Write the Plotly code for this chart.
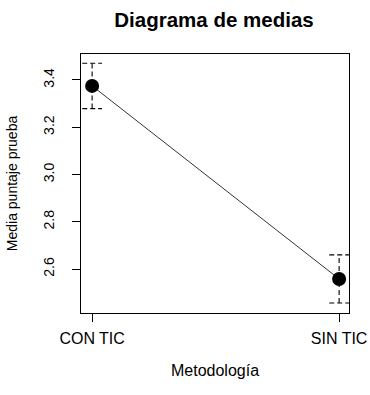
import plotly.graph_objects as go

categories = ["CON TIC", "SIN TIC"]
means = [3.375, 2.558]
half_width = [0.096, 0.102]
y_ticks = [2.6, 2.8, 3.0, 3.2, 3.4]

xpos = list(range(len(categories)))
cap = 0.04
FONT = "Liberation Sans, Arial, sans-serif"

W, H = 370, 395

fig = go.Figure()

fig.add_trace(go.Scatter(
    x=xpos, y=means, mode="lines+markers",
    line=dict(color="black", width=0.8),
    marker=dict(color="black", size=14),
    showlegend=False, hoverinfo="skip",
))

dash = "5px,3px"
for xi, m, h in zip(xpos, means, half_width):
    lo, hi = m - h, m + h
    fig.add_trace(go.Scatter(x=[xi, xi], y=[lo, hi], mode="lines",
                             line=dict(color="black", width=1.1, dash=dash),
                             showlegend=False, hoverinfo="skip"))
    for yv in (lo, hi):
        fig.add_trace(go.Scatter(x=[xi - cap, xi + cap], y=[yv, yv], mode="lines",
                                 line=dict(color="black", width=1.1, dash=dash),
                                 showlegend=False, hoverinfo="skip"))

fig.update_layout(
    width=W, height=H,
    margin=dict(l=81, r=21, t=54, b=82),
    plot_bgcolor="white", paper_bgcolor="white",
    font=dict(family=FONT, color="black"),
    title=dict(text="<b>Diagrama de medias</b>", x=214 / W,
               xanchor="center", y=1 - 20 / H, yanchor="middle", yref="container",
               font=dict(size=20.5, family=FONT, color="black")),
)

fig.update_xaxes(
    range=[-0.045, 1.04], tickvals=xpos, ticktext=categories,
    showline=True, linecolor="black", linewidth=1, mirror=True,
    ticks="outside", ticklen=8, tickcolor="black",
    tickfont=dict(size=16), ticklabelstandoff=3, ticklabeloverflow="allow",
    showgrid=False, zeroline=False, automargin=False,
    title=dict(text="Metodología", font=dict(size=16), standoff=18),
)
fig.update_yaxes(
    range=[2.414, 3.51], tickvals=y_ticks, ticktext=[f"{v:.1f}" for v in y_ticks],
    showline=True, linecolor="black", linewidth=1, mirror=True,
    ticks="outside", ticklen=8, tickcolor="black",
    tickfont=dict(size=14), tickangle=-90, ticklabelstandoff=12,
    showgrid=False, zeroline=False, automargin=False,
    title=dict(text="Media puntaje prueba", font=dict(size=14), standoff=20),
)

fig.write_html("out.html",
               config={"displayModeBar": False},
               post_script="document.body.style.margin='0';document.body.style.overflow='hidden';")
